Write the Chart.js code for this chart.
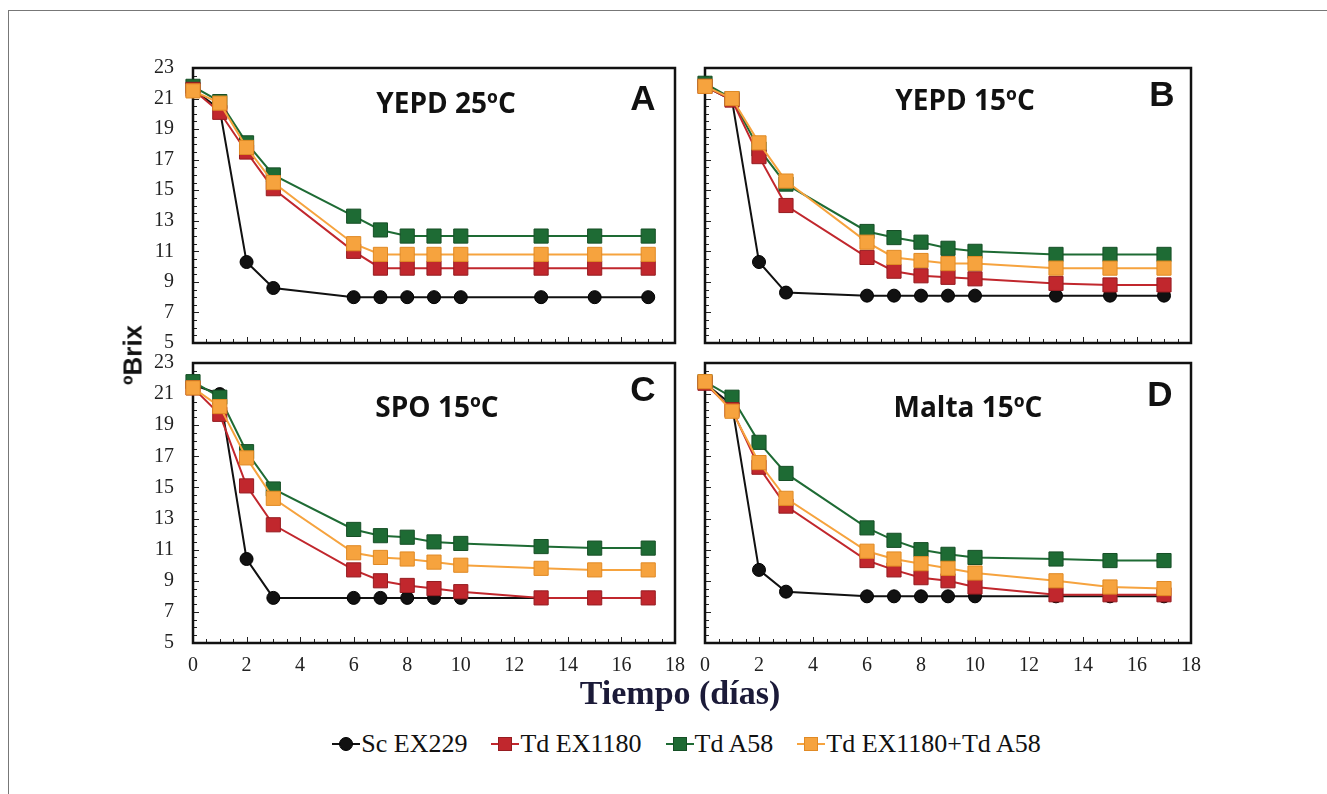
<!DOCTYPE html>
<html>
<head>
<meta charset="utf-8">
<script src="https://cdn.jsdelivr.net/npm/chart.js@4/dist/chart.umd.min.js"></script>
<style>
  body { margin: 0; background: #fff; }
  #page { position: relative; width: 1327px; height: 794px; overflow: hidden; background: #fff; }
  .frame { position: absolute; left: 8px; top: 10px; width: 1330px; height: 800px; border-top: 1px solid #777; border-left: 1px solid #777; }
  canvas { position: absolute; }
  .ttl { position: absolute; font: bold 28px 'Open Sans'; color: #111; transform: translate(-50%, -50%); white-space: nowrap; }
  .let { position: absolute; font: bold 35px 'Liberation Sans'; color: #111; transform: translate(-50%, -50%); }
  #ylab { position: absolute; left: 133px; top: 355px; font: bold 26px 'Liberation Sans'; color: #111; transform: translate(-50%, -50%) rotate(-90deg); white-space: nowrap; }
  #xlab { position: absolute; left: 680px; top: 693px; font: bold 34px 'Liberation Serif'; color: #1b1a38; transform: translate(-50%, -50%); white-space: nowrap; }
  #legend { position: absolute; left: 0; width: 1327px; top: 729px; display: flex; justify-content: center; align-items: center; padding-left: 46px; box-sizing: border-box;
            font: 26px 'Liberation Serif'; color: #111; }
  .item { display: flex; align-items: center; margin: 0 12px; }
  .sym { position: relative; width: 28px; height: 16px; margin-right: 1px; }
  .sym .ln { position: absolute; left: 0; right: 0; top: 7px; height: 2px; }
  .sym .mk { position: absolute; left: 7px; top: 1px; width: 14px; height: 14px; box-sizing: border-box; }
</style>
</head>
<body>
<div id="page">
  <div class="frame"></div>
  <canvas id="chA" width="560" height="305" style="left:130px;top:50px"></canvas>
  <canvas id="chB" width="560" height="305" style="left:642px;top:50px"></canvas>
  <canvas id="chC" width="560" height="335" style="left:130px;top:350px"></canvas>
  <canvas id="chD" width="560" height="335" style="left:642px;top:350px"></canvas>

  <div class="ttl" style="left:446px;top:102px">YEPD 25ºC</div>
  <div class="ttl" style="left:965px;top:99px">YEPD 15ºC</div>
  <div class="ttl" style="left:437px;top:406px">SPO 15ºC</div>
  <div class="ttl" style="left:968px;top:406px">Malta 15ºC</div>
  <div class="let" style="left:643px;top:98px">A</div>
  <div class="let" style="left:1162px;top:94px">B</div>
  <div class="let" style="left:643px;top:389px">C</div>
  <div class="let" style="left:1160px;top:394px">D</div>

  <div id="ylab">ºBrix</div>
  <div id="xlab">Tiempo (días)</div>
  <div id="legend"></div>
</div>

<script>
// sampling days
const days = [0, 1, 2, 3, 6, 7, 8, 9, 10, 13, 15, 17];
const seriesNames = ['Sc EX229', 'Td EX1180', 'Td A58', 'Td EX1180+Td A58'];
const yTicks = [5, 7, 9, 11, 13, 15, 17, 19, 21, 23];
const xTicks = [0, 2, 4, 6, 8, 10, 12, 14, 16, 18];

// A - YEPD 25ºC
const aSc  = [21.6, 20.3, 10.3, 8.6, 8.0, 8.0, 8.0, 8.0, 8.0, 8.0, 8.0, 8.0];
const aEx  = [21.6, 20.1, 17.5, 15.1, 11.0, 9.9, 9.9, 9.9, 9.9, 9.9, 9.9, 9.9];
const aA58 = [21.8, 20.8, 18.1, 16.0, 13.3, 12.4, 12.0, 12.0, 12.0, 12.0, 12.0, 12.0];
const aMix = [21.5, 20.7, 17.8, 15.5, 11.5, 10.8, 10.8, 10.8, 10.8, 10.8, 10.8, 10.8];
// B - YEPD 15ºC
const bSc  = [21.8, 20.9, 10.3, 8.3, 8.1, 8.1, 8.1, 8.1, 8.1, 8.1, 8.1, 8.1];
const bEx  = [21.8, 20.9, 17.2, 14.0, 10.6, 9.7, 9.4, 9.3, 9.2, 8.9, 8.8, 8.8];
const bA58 = [22.0, 21.0, 17.7, 15.4, 12.3, 11.9, 11.6, 11.2, 11.0, 10.8, 10.8, 10.8];
const bMix = [21.8, 21.0, 18.1, 15.6, 11.6, 10.6, 10.4, 10.2, 10.2, 9.9, 9.9, 9.9];
// C - SPO 15ºC
const cSc  = [21.6, 21.0, 10.4, 7.9, 7.9, 7.9, 7.9, 7.9, 7.9, 7.9, 7.9, 7.9];
const cEx  = [21.4, 19.7, 15.1, 12.6, 9.7, 9.0, 8.7, 8.5, 8.3, 7.9, 7.9, 7.9];
const cA58 = [21.8, 20.8, 17.3, 14.9, 12.3, 11.9, 11.8, 11.5, 11.4, 11.2, 11.1, 11.1];
const cMix = [21.4, 20.2, 16.9, 14.3, 10.8, 10.5, 10.4, 10.2, 10.0, 9.8, 9.7, 9.7];
// D - Malta 15ºC
const dSc  = [21.7, 20.3, 9.7, 8.3, 8.0, 8.0, 8.0, 8.0, 8.0, 8.0, 8.0, 8.0];
const dEx  = [21.7, 20.0, 16.3, 13.8, 10.3, 9.7, 9.2, 9.0, 8.6, 8.1, 8.1, 8.1];
const dA58 = [21.8, 20.8, 17.9, 15.9, 12.4, 11.6, 11.0, 10.7, 10.5, 10.4, 10.3, 10.3];
const dMix = [21.8, 19.9, 16.6, 14.3, 10.9, 10.4, 10.1, 9.8, 9.5, 9.0, 8.6, 8.5];

// style per series: colour, marker edge, marker, size, draw order
const styles = [
  { color: '#111111', edge: '#000000', shape: 'circle', r: 6.5, order: 3 },
  { color: '#c1272d', edge: '#961c21', shape: 'rect', r: 10, order: 1 },
  { color: '#1e6b34', edge: '#164f26', shape: 'rect', r: 10, order: 2 },
  { color: '#f6a33e', edge: '#e08a25', shape: 'rect', r: 10, order: 0 }
];

Chart.defaults.font.family = "'Liberation Serif', 'Times New Roman', serif";
Chart.defaults.font.size = 20;
Chart.defaults.color = '#222';

//box and inward ticks, drawn under the lines
const boxTicks = {
  id: 'boxTicks',
  beforeDatasetsDraw(chart) {
    const { ctx, chartArea: a, scales: { x, y } } = chart;
    ctx.save();
    ctx.strokeStyle = '#222';
    ctx.lineWidth = 1;
    ctx.beginPath();
    for (let v = 0.5; v < 18; v += 0.5) {
      const px = Math.round(x.getPixelForValue(v)) + 0.5;
      const len = v % 2 === 0 ? 6 : 4;
      ctx.moveTo(px, a.bottom);
      ctx.lineTo(px, a.bottom - len);
    }
    for (let v = 5.5; v < 23; v += 0.5) {
      const py = Math.round(y.getPixelForValue(v)) + 0.5;
      const len = v % 2 === 1 ? 6 : 4;
      ctx.moveTo(a.left, py);
      ctx.lineTo(a.left + len, py);
    }
    ctx.stroke();
    ctx.lineWidth = 2.5;
    ctx.strokeStyle = '#111';
    ctx.strokeRect(a.left, a.top, a.right - a.left, a.bottom - a.top);
    ctx.restore();
  }
};

// fixed axis sizes, no automatic label overhang padding
function fixSize(prop, size) {
  return s => {
    s[prop] = size;
    s.paddingTop = 0; s.paddingBottom = 0; s.paddingLeft = 0; s.paddingRight = 0;
  };
}

function makePanel(id, values, showX, showY, padRight, padTop, xHeight) {
  const datasets = values.map((vals, i) => ({
    label: seriesNames[i],
    data: days.map((d, k) => ({ x: d, y: vals[k] })),
    borderColor: styles[i].color,
    backgroundColor: styles[i].color,
    pointBackgroundColor: styles[i].color,
    pointBorderColor: styles[i].edge,
    pointBorderWidth: 1,
    pointStyle: styles[i].shape,
    pointRadius: styles[i].r,
    borderWidth: 2,
    order: styles[i].order,
    clip: false
  }));
  return new Chart(document.getElementById(id), {
    type: 'line',
    data: { datasets },
    options: {
      responsive: false,
      animation: false,
      events: [],
      layout: { padding: { top: padTop, right: padRight, left: 0, bottom: 0 } },
      plugins: { legend: { display: false }, tooltip: { enabled: false } },
      scales: {
        x: {
          type: 'linear', min: 0, max: 18,
          afterBuildTicks: s => { s.ticks = xTicks.map(v => ({ value: v })); },
          afterFit: fixSize('height', xHeight),
          grid: { display: false, drawTicks: false },
          border: { display: false },
          ticks: { display: showX, padding: 11, maxRotation: 0 }
        },
        y: {
          min: 5, max: 23,
          afterBuildTicks: s => { s.ticks = yTicks.map(v => ({ value: v })); },
          afterFit: fixSize('width', 63),
          grid: { display: false, drawTicks: false },
          border: { display: false },
          ticks: { display: showY, padding: 19 }
        }
      }
    },
    plugins: [boxTicks]
  });
}

makePanel('chA', [aSc, aEx, aA58, aMix], false, true, 15, 18, 12);
makePanel('chB', [bSc, bEx, bA58, bMix], false, false, 11, 18, 12);
makePanel('chC', [cSc, cEx, cA58, cMix], true, true, 15, 13, 42);
makePanel('chD', [dSc, dEx, dA58, dMix], true, false, 11, 13, 42);

//legend
const legend = document.getElementById('legend');
seriesNames.forEach((name, i) => {
  const st = styles[i];
  const item = document.createElement('div');
  item.className = 'item';
  const round = st.shape === 'circle' ? 'border-radius:50%;' : '';
  item.innerHTML = `<span class="sym"><span class="ln" style="background:${st.color}"></span>` +
    `<span class="mk" style="background:${st.color};border:1px solid ${st.edge};${round}"></span></span>${name}`;
  legend.appendChild(item);
});
</script>
</body>
</html>
